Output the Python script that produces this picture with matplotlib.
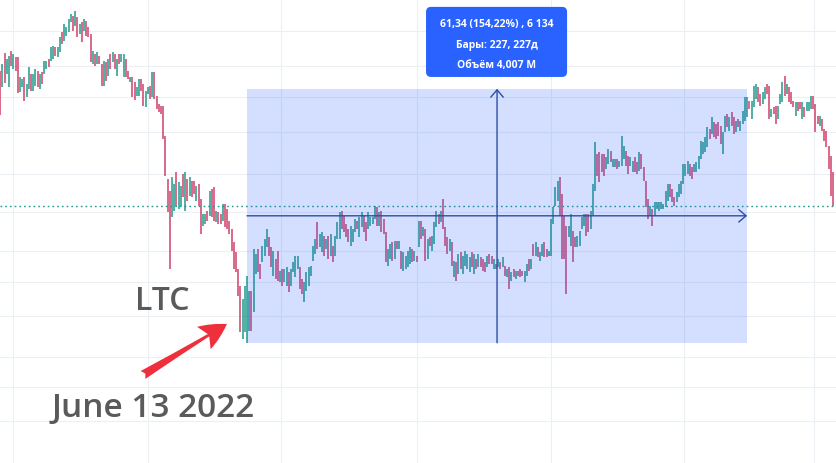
import numpy as np
import matplotlib
matplotlib.use("Agg")
import matplotlib.pyplot as plt
from matplotlib.patches import Rectangle, FancyBboxPatch

# LTC daily bars: high / low in USD, u = up bar, d = down bar
# bars before the measured range
highs_before = [
    105.4, 107.1, 109.8, 108.3, 109.0, 110.2, 109.5, 108.8, 108.8, 104.0,
    103.5, 104.0, 102.3, 106.4, 104.7, 104.7, 105.9, 105.4, 104.7, 105.2,
    107.8, 107.8, 108.3, 111.2, 111.5, 111.2, 111.2, 113.6, 114.8, 116.8,
    116.0, 118.0, 119.2, 118.7, 119.9, 118.5, 116.8, 117.2, 118.0, 117.5,
    116.0, 114.3, 110.2, 109.5, 110.0, 109.0, 107.1, 107.8, 107.6, 108.3,
    109.5, 110.0, 109.5, 108.3, 109.5, 109.5,
    109.5, 108.3, 105.4, 104.0, 104.0, 102.8, 101.5, 103.5, 103.5, 102.3,
    100.6, 101.5, 101.8, 105.2, 105.2, 99.4, 97.4, 97.0, 97.0, 89.7,
    79.3, 76.4, 79.8, 78.1, 81.0, 78.6, 77.6, 80.5, 81.0, 79.3,
    79.8, 78.8, 78.8, 77.6, 78.1, 74.5, 70.9, 70.9, 71.6, 76.4,
    76.9, 77.4, 71.6, 71.4, 70.9, 73.3, 73.3, 72.1, 69.2, 67.3,
    64.1, 61.7, 57.6, 53.5, 50.4, 53.5,
]
lows_before = [
    94.8, 101.5, 102.5, 104.7, 101.5, 106.6, 105.9, 105.4, 100.1, 100.3,
    101.5, 98.2, 99.1, 101.1, 100.6, 100.6, 101.8, 101.5, 101.1, 102.3,
    104.7, 105.9, 106.4, 107.8, 108.3, 109.0, 108.8, 110.0, 111.9, 112.7,
    113.9, 114.8, 117.2, 115.1, 116.3, 113.6, 114.3, 112.4, 115.1, 113.9,
    113.6, 107.6, 107.1, 106.6, 107.1, 107.1, 101.8, 101.8, 103.0, 104.2,
    105.9, 107.6, 105.9, 104.2, 107.1, 107.6,
    104.0, 104.0, 103.5, 102.8, 99.1, 98.4, 99.4, 99.4, 100.6, 97.0,
    96.7, 99.9, 98.7, 99.1, 98.7, 96.2, 95.5, 95.0, 89.0, 80.1,
    71.4, 57.6, 70.1, 71.6, 72.8, 72.1, 72.8, 75.0, 71.6, 74.0,
    75.2, 75.0, 75.7, 74.0, 72.8, 66.0, 68.0, 68.5, 69.2, 70.4,
    70.2, 69.2, 68.9, 68.5, 68.5, 69.2, 67.7, 67.3, 66.0, 61.9,
    57.6, 56.9, 51.1, 42.4, 40.7, 42.4,
]
dirs_before = ("duduududdu" "uduuduudud" "uuduuduudu" "uuudududud" "ddududdudu" "dududu"
               "uddudduudd" "uududddddd" "dduuduudud" "uddudduudu" "dduddudddd" "dddduu")

# bars inside the measured range (June 13 2022, 227 bars)
highs_range = [
    55.9, 52.3, 52.3, 62.4, 61.2, 62.4, 58.8, 63.1, 64.8, 67.3,
    65.3, 62.9, 61.9, 60.0, 61.9, 57.1, 57.6, 57.6, 58.1, 56.9,
    57.6, 59.3, 60.7, 60.7, 58.1, 55.2, 54.5, 56.9, 58.1, 58.3,
    63.1, 64.8, 68.9, 66.0, 66.5, 65.6, 64.8, 65.6, 66.0, 63.1,
    65.6, 68.9, 71.4, 71.6, 70.4, 68.5, 67.3, 68.0, 67.3, 69.7,
    69.2, 70.2, 71.4, 70.4, 68.9, 71.4, 70.2, 70.2, 72.8, 72.6,
    71.4, 71.6, 69.7, 66.5, 62.4, 63.6, 64.1, 64.4, 64.4, 64.4,
    61.9, 61.7, 60.7, 61.9, 62.9, 62.4, 61.9, 60.7, 69.2, 69.2,
    67.7, 67.3, 64.8, 65.3, 65.6, 68.9, 71.6, 70.9, 71.6, 74.5,
    67.7, 65.3, 64.8, 64.1, 59.5, 59.3, 61.2, 61.7, 60.7, 61.9,
    61.2, 60.5, 61.7, 61.2, 60.0, 61.2, 60.5, 60.0, 59.3, 60.7,
    61.2, 60.7, 60.0, 58.8, 60.0, 59.3, 60.5, 58.3, 57.6, 58.1,
    56.9, 57.6, 57.1, 57.1, 57.6, 57.1, 57.1, 58.8, 60.0, 60.0,
    63.6, 64.1, 62.9,
    61.7, 63.6, 64.1, 62.4, 61.9, 69.7, 72.6, 77.4, 78.8, 79.8,
    75.7, 70.4, 68.0, 68.0, 70.9, 66.8, 65.3, 65.6, 66.8, 70.2,
    70.9, 70.9, 70.9, 71.6, 78.1, 88.3, 85.4, 85.9, 85.4, 85.4,
    84.6, 86.6, 86.1, 84.2,
    84.2, 84.2, 83.7, 89.7, 87.3, 86.1, 84.9, 84.6, 83.7, 84.6,
    83.4, 85.9, 85.4, 82.2, 78.8, 74.5, 72.8, 72.1, 73.8, 73.8,
    73.8, 73.8, 73.3, 76.4, 78.1, 78.1, 76.9, 75.0, 76.2, 78.1,
    78.8, 82.9, 82.9, 83.7, 82.9, 82.2, 82.9, 83.4, 84.9, 88.5,
    88.3, 89.5, 91.9, 91.4, 94.3, 93.1, 92.6, 93.1, 92.1, 90.7,
    94.5, 95.0, 94.3, 95.5, 94.3, 93.3, 93.8, 93.3, 95.8, 99.1,
]
lows_range = [
    39.8, 42.6, 42.6, 47.2, 56.4, 56.9, 55.2, 59.3, 60.7, 62.9,
    60.7, 58.1, 55.9, 55.2, 54.7, 54.5, 53.5, 54.5, 53.5, 52.0,
    53.5, 56.9, 55.7, 57.6, 52.8, 51.6, 49.6, 52.3, 53.5, 55.9,
    59.5, 61.2, 62.4, 62.9, 61.7, 60.7, 62.4, 60.0, 60.7, 59.3,
    60.7, 64.8, 64.8, 67.3, 66.5, 65.3, 64.1, 63.1, 64.1, 66.5,
    67.3, 65.3, 67.7, 66.5, 64.4, 67.3, 68.0, 68.5, 69.7, 68.0,
    68.0, 66.5, 66.0, 59.3, 58.3, 60.0, 59.5, 60.0, 62.4, 62.4,
    57.6, 57.1, 57.6, 58.1, 58.8, 59.3, 59.5, 59.3, 62.9, 64.8,
    65.6, 59.5, 60.0, 63.1, 61.9, 63.6, 67.7, 68.5, 68.9, 67.3,
    63.1, 61.2, 61.9, 58.3, 55.7, 54.7, 56.4, 57.6, 56.4, 58.3,
    57.6, 56.9, 58.1, 56.4, 57.6, 58.1, 58.1, 57.1, 56.9, 58.1,
    58.8, 58.8, 57.6, 57.6, 58.1, 57.6, 58.1, 55.9, 55.7, 52.8,
    54.7, 55.7, 55.2, 55.9, 55.7, 55.9, 54.5, 55.9, 57.1, 57.6,
    60.7, 60.7, 60.5,
    59.5, 60.7, 60.5, 60.5, 60.7, 60.7, 68.5, 72.8, 74.0, 70.4,
    60.0, 60.0, 51.6, 65.3, 63.1, 59.3, 62.9, 62.9, 63.1, 67.3,
    68.0, 65.6, 66.5, 67.3, 70.4, 76.4, 80.1, 78.6, 81.0, 80.1,
    81.7, 83.0, 83.4, 82.2,
    82.2, 81.7, 82.2, 82.5, 84.2, 82.5, 80.5, 82.5, 81.0, 81.0,
    80.5, 81.3, 81.7, 78.8, 72.6, 69.7, 70.4, 68.0, 70.4, 72.1,
    71.6, 72.1, 72.1, 72.6, 74.0, 75.0, 73.8, 72.8, 73.8, 75.0,
    75.7, 78.1, 80.1, 80.5, 80.1, 79.3, 81.0, 81.0, 81.7, 84.2,
    85.4, 85.8, 87.1, 89.0, 90.2, 89.5, 89.0, 89.7, 87.8, 85.4,
    90.7, 91.9, 90.9, 92.1, 90.2, 90.7, 91.9, 90.9, 92.6, 93.3,
]
dirs_range = ("uuduudduuu" "ddudduduud" "uuuudduuuu" "uuduududud" "uuudddduuu"
              "duudduuuud" "uddduududu" "duuuududud" "ududuuudud" "ddudududuu"
              "uudududddu" "ddudududud" "ududdduudu" "dud"
              "uudduuuuud" "ddduudduuu" "udduuudddd" "uudu"
              "uduuudduud" "dudddduduu" "uuuuuddduu" "uuuudduuuu" "uuududdddu" "ududduduuu")

# bars after the range
highs_after = [
    99.1, 98.2, 98.2, 101.8, 102.3, 101.5, 99.9, 100.3, 101.5, 102.3,
    101.8, 96.2, 96.7, 97.0, 97.0, 99.9, 102.8, 104.2, 102.3, 101.5,
    100.3, 98.2, 97.9, 97.9, 97.9, 97.9, 96.7, 97.9, 97.9, 99.4,
    99.4, 97.4, 94.5, 94.5, 93.8, 91.4, 90.9, 87.3, 84.9, 80.9,
]
lows_after = [
    94.3, 96.2, 93.8, 96.7, 98.7, 97.9, 97.0, 97.4, 98.7, 99.9,
    93.8, 94.3, 95.0, 92.6, 93.8, 97.4, 97.9, 99.4, 99.9, 97.9,
    97.4, 96.7, 94.5, 95.7, 96.2, 93.8, 94.3, 95.7, 95.7, 96.2,
    96.2, 90.7, 92.6, 92.1, 90.9, 88.5, 87.1, 81.7, 75.2, 72.8,
]
dirs_after = "uduuudduud" "dudduuudud" "ddudduduuu" "dddudddddd"

range_low = 39.77
range_high = 101.11
range_bars = 227
last_price = 72.9
tooltip_lines = ["61,34 (154,22%) , 6 134", "Бары: 227, 227д", "Объём 4,007 M"]

# chart grid as seen on the screenshot
grid_x = [-106.2, -44.9, 15.4, 77.2, 138.0, 198.4, 257.4]
grid_y = [115.1, 106.6, 99.1, 90.7, 80.5, 71.4, 61.9, 54.5, 46.2, 36.3, 29.1, 20.9]

up_color = "#1f9a8a"
down_color = "#d0406a"
line_color = "#2d4ea6"

highs = np.array(highs_before + highs_range + highs_after)
lows = np.array(lows_before + lows_range + lows_after)
dirs = np.array(list(dirs_before + dirs_range + dirs_after))
x = np.arange(len(highs)) - len(highs_before)
up = dirs == "u"

fig = plt.figure(figsize=(8.37, 4.64), dpi=100)
ax = fig.add_axes([0, 0, 1, 1])
ax.set_xlim(-112.1, 267.8)
ax.set_ylim(10.74, 122.8)
ax.axis("off")

for gx in grid_x:
    ax.axvline(gx, color="#eceff3", lw=0.8, zorder=0)
for gy in grid_y:
    ax.axhline(gy, color="#eceff3", lw=0.8, zorder=0)

ax.vlines(x[up], lows[up], highs[up], color=up_color, lw=1.1, zorder=1)
ax.vlines(x[~up], lows[~up], highs[~up], color=down_color, lw=1.1, zorder=1)

ax.axhline(last_price, color=up_color, lw=1.0, ls=(0, (1.2, 2.2)), zorder=2)

# measured range box
ax.add_patch(Rectangle((0, range_low), range_bars, range_high - range_low,
                       fc="#2962ff", alpha=0.2, ec="none", zorder=3))
mid_price = (range_low + range_high) / 2
mid_bar = range_bars / 2
arrow = dict(arrowstyle="->,head_length=0.35,head_width=0.3", color=line_color,
             lw=1.0, shrinkA=0, shrinkB=0, mutation_scale=15)
ax.annotate("", xy=(range_bars, mid_price), xytext=(0, mid_price), arrowprops=arrow, zorder=4)
ax.annotate("", xy=(mid_bar, range_high), xytext=(mid_bar, range_low), arrowprops=arrow, zorder=4)

# tooltip
ax.add_patch(FancyBboxPatch((0.509, 0.832), 0.1685, 0.151,
                            boxstyle="round,pad=0,rounding_size=0.006",
                            mutation_aspect=837 / 464, transform=ax.transAxes,
                            fc="#2962ff", ec="none", zorder=5))
for i, line in enumerate(tooltip_lines):
    ax.text(0.5932, [0.948, 0.901, 0.858][i], line, transform=ax.transAxes,
            ha="center", va="center", color="white", fontsize=7.5,
            family="Open Sans", weight="bold", zorder=6)

# annotations
ax.text(0.1613, 0.332, "LTC", transform=ax.transAxes, ha="left", va="baseline",
        fontsize=23, family="Open Sans", weight="semibold", color="#5a5a5a", zorder=6)
ax.text(0.0621, 0.1013, "June 13 2022", transform=ax.transAxes, ha="left", va="baseline",
        fontsize=24, family="Open Sans", weight="semibold", color="#5a5a5a", zorder=6)
ax.annotate("", xy=(-9.1, 44.3), xytext=(-47.2, 32.0),
            arrowprops=dict(arrowstyle="fancy,head_length=0.97,head_width=0.94,tail_width=0.33",
                            fc="#ee2f3c", ec="none", mutation_scale=20,
                            shrinkA=0, shrinkB=0), zorder=6)

fig.savefig("out.png", dpi=100)
